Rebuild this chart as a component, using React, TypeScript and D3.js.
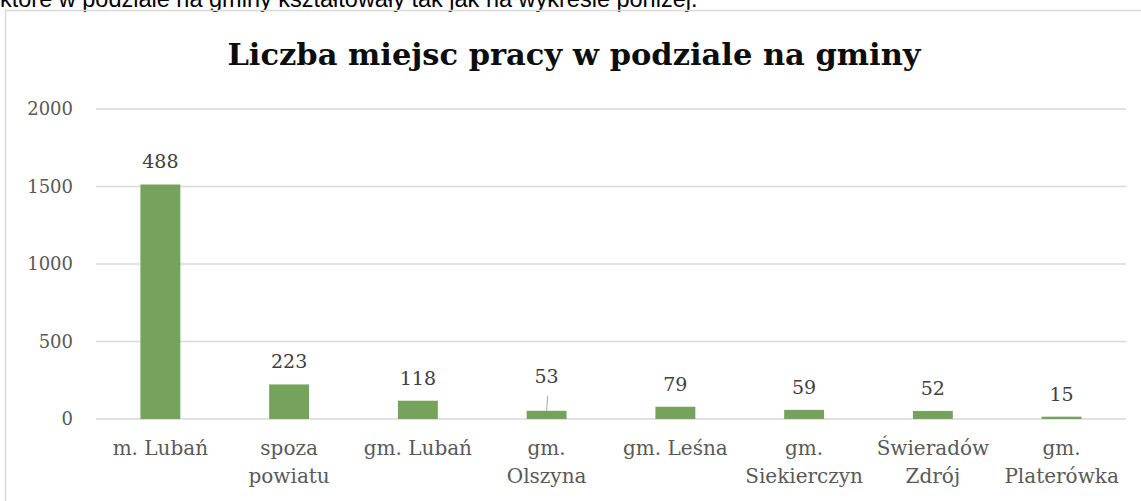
import React from "react";
import * as d3 from "d3";

const categories = [
  "m. Lubań",
  "spoza\npowiatu",
  "gm. Lubań",
  "gm.\nOlszyna",
  "gm. Leśna",
  "gm.\nSiekierczyn",
  "Świeradów\nZdrój",
  "gm.\nPlaterówka",
];
const values = [1513, 223, 118, 53, 79, 59, 52, 15];
const valueLabels = ["488", "223", "118", "53", "79", "59", "52", "15"];
const yTicks = [0, 500, 1000, 1500, 2000];

const W = 1141;
const H = 501;
const serif = "'DejaVu Serif', 'Liberation Serif', serif";

export default function App() {
  const x = d3
    .scaleBand()
    .domain(categories)
    .range([96, 1126])
    .paddingInner(0.69)
    .paddingOuter(0.345);
  const y = d3.scaleLinear().domain([0, 2000]).range([419, 109]);

  return (
    <svg
      width={W}
      height={H}
      style={{ position: "absolute", left: 0, top: 0, background: "#fff" }}
    >
      <text
        x={0}
        y={7}
        fontFamily="'Liberation Sans', Arial, sans-serif"
        fontSize={23.5}
        fill="#000"
      >
        które w podziale na gminy kształtowały tak jak na wykresie poniżej.
      </text>
      {/* chart frame, only left and top edges are visible */}
      <path d={`M5.5,${H} V10.5 H${W}`} fill="none" stroke="#d9d9d9" strokeWidth={1.5} />

      <text
        x={574}
        y={65}
        textAnchor="middle"
        fontFamily={serif}
        fontWeight="bold"
        fontSize={30.5}
        fill="#0d0d0d"
      >
        Liczba miejsc pracy w podziale na gminy
      </text>

      {yTicks.map((t) => (
        <g key={t}>
          <line x1={96} x2={1126} y1={y(t)} y2={y(t)} stroke="#d9d9d9" strokeWidth={1.5} />
          <text
            x={73}
            y={y(t) + 6}
            textAnchor="end"
            fontFamily={serif}
            fontSize={18}
            fill="#595959"
          >
            {t}
          </text>
        </g>
      ))}

      {categories.map((c, i) => {
        const bx = x(c)!;
        const cx = bx + x.bandwidth() / 2;
        const top = y(values[i]);
        const lifted = i === 3;
        const ly = lifted ? top - 28 : top - 16;
        return (
          <g key={c}>
            <rect x={bx} y={top} width={x.bandwidth()} height={y(0) - top} fill="#76a35c" />
            {lifted && (
              <line x1={cx + 1} y1={ly + 13} x2={cx} y2={top} stroke="#a6a6a6" strokeWidth={1} />
            )}
            <text
              x={cx}
              y={ly}
              textAnchor="middle"
              fontFamily={serif}
              fontSize={19}
              fill="#404040"
            >
              {valueLabels[i]}
            </text>
            {c.split("\n").map((line, j) => (
              <text
                key={j}
                x={cx}
                y={455 + j * 28}
                textAnchor="middle"
                fontFamily={serif}
                fontSize={20}
                fill="#595959"
              >
                {line}
              </text>
            ))}
          </g>
        );
      })}
    </svg>
  );
}
